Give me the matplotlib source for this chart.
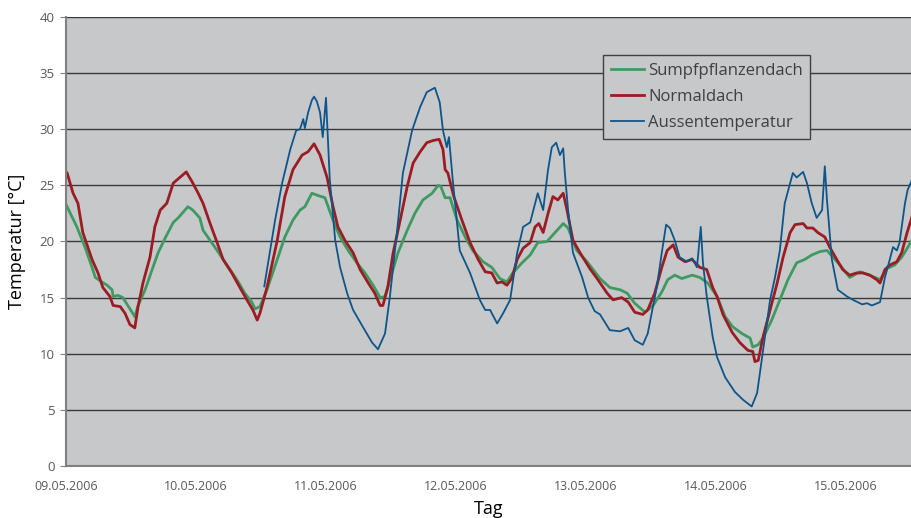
import numpy as np
import matplotlib
matplotlib.use("Agg")
import matplotlib.pyplot as plt

# Zeit in Stunden ab 09.05.2006 00:00, Temperatur in °C
tage = ["09.05.2006", "10.05.2006", "11.05.2006", "12.05.2006",
        "13.05.2006", "14.05.2006", "15.05.2006"]

gruen_h = [0, 0.2, 2.0, 3.5, 4.8, 5.4, 6.6, 7.6, 8.5, 8.7, 9.6, 10.5, 11.4, 12.2, 12.7,
           13.3, 14.6, 15.9, 17.0, 18.3, 19.8, 20.7, 21.6, 22.5, 23.4, 24.7, 25.3, 26.6,
           27.9, 29.0, 30.3, 31.8, 33.0, 34.3, 34.9, 35.8, 37.1, 39.0, 40.4, 41.9, 43.2,
           44.1, 45.4, 46.5, 47.8, 49.3, 50.6, 52.1, 53.7, 55.2, 56.7, 58.0, 58.9, 59.8,
           61.3, 63.0, 64.4, 65.9, 67.6, 68.7, 69.2, 70.0, 70.9, 72.2, 73.7, 75.1, 77.0,
           78.6, 80.1, 81.4, 82.5, 84.2, 85.7, 87.1, 88.8, 90.3, 91.8, 92.7, 94.3, 96.2,
           98.6, 100.4, 102.3, 103.6, 105.0, 106.9, 108.4, 110.0, 111.1, 112.4, 113.7,
           115.6, 117.0, 118.5, 120.2, 121.7, 123.1, 124.8, 126.3, 126.8, 127.8, 128.7,
           130.3, 131.8, 133.3, 134.9, 136.4, 137.7, 139.2, 140.5, 141.6, 142.9, 144.7,
           146.6, 148.4, 150.3, 151.6, 153.0, 154.3, 156.2]
gruen_t = [23.3, 23.1, 21.3, 19.5, 17.7, 16.8, 16.4, 16.1, 15.7, 15.1, 15.2, 15.0, 14.3,
           13.7, 13.3, 14.3, 15.7, 17.5, 19.0, 20.3, 21.7, 22.1, 22.6, 23.1, 22.8, 22.1,
           21.0, 20.1, 19.2, 18.4, 17.5, 16.4, 15.4, 14.6, 14.0, 14.2, 15.7, 18.4, 20.4,
           21.9, 22.8, 23.1, 24.3, 24.1, 23.9, 21.9, 20.4, 19.2, 18.1, 17.2, 16.1, 15.0,
           15.1, 16.6, 19.0, 21.0, 22.5, 23.7, 24.3, 25.0, 24.9, 23.9, 23.9, 21.9, 20.4,
           19.2, 18.2, 17.7, 16.7, 16.4, 17.2, 18.1, 18.8, 19.9, 20.0, 20.8, 21.6, 21.2,
           19.2, 18.2, 16.7, 15.9, 15.7, 15.4, 14.5, 13.7, 14.3, 15.5, 16.6, 17.0, 16.7,
           17.0, 16.8, 16.3, 15.1, 13.3, 12.4, 11.8, 11.4, 10.6, 10.8, 11.4, 13.0, 14.8,
           16.6, 18.1, 18.4, 18.8, 19.1, 19.2, 18.6, 17.9, 16.8, 17.3, 17.0, 16.6, 17.6,
           17.9, 18.6, 20.1]

rot_h = [0, 0.2, 1.3, 2.2, 3.1, 4.8, 5.9, 6.8, 8.1, 8.7, 10.0, 10.9, 11.8, 12.7, 13.3,
         14.2, 15.5, 16.4, 17.4, 18.6, 19.8, 21.0, 22.2, 23.3, 24.4, 25.3, 26.6, 27.9,
         29.0, 30.6, 32.1, 33.4, 34.5, 35.3, 35.8, 37.1, 39.0, 40.4, 41.9, 43.6, 44.7,
         45.8, 46.9, 48.2, 49.3, 50.2, 51.5, 53.0, 54.3, 55.8, 57.0, 58.0, 58.5, 59.4,
         60.4, 61.7, 63.0, 64.1, 65.4, 66.6, 67.8, 68.9, 69.6, 70.0, 70.5, 71.6, 73.1,
         74.6, 76.1, 77.4, 78.6, 79.6, 80.5, 81.4, 82.3, 83.3, 84.4, 85.7, 86.6, 87.3,
         88.1, 89.0, 89.9, 90.8, 91.8, 92.5, 93.6, 94.9, 96.7, 98.2, 99.9, 101.0, 102.6,
         103.8, 105.0, 106.5, 107.4, 108.7, 110.0, 111.0, 112.1, 113.0, 114.3, 115.6,
         117.0, 118.3, 119.4, 120.2, 121.3, 123.0, 124.4, 125.9, 126.8, 127.2, 127.8,
         128.7, 130.0, 131.3, 132.4, 133.7, 134.6, 136.1, 136.8, 137.9, 138.8, 140.1,
         141.0, 142.3, 143.4, 144.7, 146.0, 147.1, 148.4, 149.7, 150.3, 151.2, 152.1,
         153.4, 154.3, 155.3, 156.2]
rot_t = [26.2, 26.1, 24.3, 23.4, 20.8, 18.4, 17.2, 15.9, 15.1, 14.3, 14.2, 13.6, 12.6,
         12.3, 14.2, 16.3, 18.6, 21.3, 22.8, 23.4, 25.2, 25.7, 26.2, 25.3, 24.3, 23.4,
         21.6, 19.9, 18.4, 17.2, 15.9, 14.8, 13.9, 13.0, 13.6, 15.9, 20.1, 24.0, 26.4,
         27.7, 28.0, 28.7, 27.7, 25.7, 23.1, 21.3, 20.1, 19.0, 17.5, 16.3, 15.4, 14.3,
         14.3, 15.9, 19.0, 21.9, 24.9, 27.0, 28.0, 28.8, 29.0, 29.1, 28.2, 26.4, 26.1,
         24.0, 21.9, 19.9, 18.4, 17.3, 17.2, 16.3, 16.4, 16.1, 16.7, 18.4, 19.4, 19.9,
         21.3, 21.6, 20.8, 22.5, 24.0, 23.7, 24.3, 22.8, 20.1, 19.0, 17.6, 16.6, 15.4,
         14.8, 15.0, 14.6, 13.7, 13.5, 13.9, 15.4, 17.7, 19.2, 19.7, 18.6, 18.2, 18.4,
         17.7, 17.5, 15.9, 15.1, 13.5, 11.9, 11.0, 10.3, 10.2, 9.3, 9.4, 11.5, 13.9,
         16.3, 18.6, 20.8, 21.5, 21.6, 21.2, 21.2, 20.8, 20.4, 19.5, 18.4, 17.5, 17.0,
         17.2, 17.2, 17.0, 16.6, 16.3, 17.5, 17.9, 18.2, 19.0, 20.8, 22.2]

blau_h = [36.6, 38.6, 39.9, 41.4, 42.5, 43.2, 43.8, 44.1, 44.7, 45.4, 45.8, 46.3, 46.9,
          47.4, 48.0, 48.7, 49.7, 50.6, 51.9, 53.0, 54.8, 56.5, 57.6, 58.9, 59.8, 61.1,
          62.2, 63.9, 65.4, 66.6, 68.1, 69.0, 69.6, 70.3, 70.7, 71.4, 72.7, 74.6, 76.4,
          77.4, 78.3, 79.6, 80.7, 82.0, 83.3, 84.4, 85.7, 87.1, 88.1, 89.0, 89.7, 90.5,
          91.2, 91.8, 92.1, 92.7, 93.6, 95.3, 96.4, 97.6, 98.6, 100.4, 102.3, 103.8,
          105.0, 106.5, 107.4, 109.1, 110.0, 110.8, 111.5, 112.4, 113.3, 114.6, 115.6,
          116.5, 117.2, 117.6, 118.3, 119.4, 120.2, 121.7, 123.5, 125.0, 126.6, 127.6,
          128.7, 130.0, 130.9, 131.8, 132.7, 133.7, 134.2, 134.9, 136.1, 136.8, 137.7,
          138.6, 139.6, 140.1, 140.5, 141.4, 142.5, 144.2, 145.3, 147.0, 147.9, 148.8,
          150.3, 151.2, 152.1, 152.7, 153.4, 153.9, 154.9, 155.4, 156.2]
blau_t = [16.0, 21.9, 25.2, 28.2, 29.9, 30.0, 30.9, 30.1, 31.5, 32.6, 32.9, 32.5, 31.5,
          29.3, 32.8, 25.5, 20.1, 17.7, 15.4, 13.9, 12.4, 11.0, 10.4, 11.8, 15.1, 20.8,
          26.1, 29.9, 32.0, 33.3, 33.7, 32.4, 29.9, 28.4, 29.3, 25.5, 19.2, 17.2, 14.8,
          13.9, 13.9, 12.7, 13.6, 14.8, 19.0, 21.3, 21.7, 24.3, 22.8, 26.4, 28.4, 28.8,
          27.7, 28.3, 26.1, 22.8, 19.0, 16.8, 15.0, 13.8, 13.5, 12.1, 12.0, 12.3, 11.2,
          10.8, 11.8, 16.0, 19.0, 21.5, 21.2, 20.1, 18.6, 18.2, 18.5, 17.7, 21.3, 18.1,
          15.1, 11.5, 9.7, 7.9, 6.6, 5.9, 5.3, 6.5, 10.3, 14.8, 16.8, 19.2, 23.4, 25.2,
          26.1, 25.7, 26.2, 25.2, 23.4, 22.1, 22.8, 26.7, 23.7, 18.4, 15.7, 15.1, 14.8,
          14.4, 14.5, 14.3, 14.6, 16.8, 18.4, 19.5, 19.2, 19.9, 23.4, 24.6, 25.5]

fig = plt.figure(figsize=(9.12, 5.18), dpi=100)
ax = fig.add_axes([0.0724, 0.1004, 0.9276, 0.8668])
ax.set_facecolor("#c7c8ca")

ax.plot(gruen_h, gruen_t, color="#3f9a62", lw=2.0, label="Sumpfpflanzendach")
ax.plot(rot_h, rot_t, color="#9b1c22", lw=2.0, label="Normaldach")
ax.plot(blau_h, blau_t, color="#0d558a", lw=1.3, label="Aussentemperatur")

ax.set_ylim(0, 40)
ax.set_xlim(0, 156.2)
ax.set_yticks(np.arange(0, 41, 5))
ax.set_xticks(np.arange(len(tage)) * 24)
ax.set_xticklabels(tage)
ax.yaxis.grid(True, color="#3a3a3a", lw=1.0)
ax.set_axisbelow(True)

for s in ["top", "right"]:
    ax.spines[s].set_visible(False)
ax.spines["left"].set_color("#808080")
ax.spines["bottom"].set_color("#808080")
ax.spines["left"].set_linewidth(1.5)
ax.spines["bottom"].set_linewidth(1.5)
ax.tick_params(axis="y", length=4, color="#808080", labelcolor="#595959",
               labelsize=9.5, pad=4)
ax.tick_params(axis="x", length=0, labelcolor="#595959", labelsize=9, pad=10)
for lab in ax.get_xticklabels() + ax.get_yticklabels():
    lab.set_fontfamily("Open Sans")

ax.set_ylabel("Temperatur [°C]", fontsize=13, family="Open Sans", labelpad=10)
ax.set_xlabel("Tag", fontsize=13, family="Open Sans", labelpad=5)

leg = ax.legend(loc="upper left", bbox_to_anchor=(0.635, 0.915), borderaxespad=0,
                frameon=True, fancybox=False, handlelength=2.0, handletextpad=0.25,
                labelspacing=0.62, borderpad=0.45,
                prop={"family": "Open Sans", "size": 12})
leg.get_frame().set_facecolor("#c7c8ca")
leg.get_frame().set_edgecolor("#404040")
leg.get_frame().set_alpha(1)
for t in leg.get_texts():
    t.set_color("#404040")

fig.savefig("out.png", dpi=100)
